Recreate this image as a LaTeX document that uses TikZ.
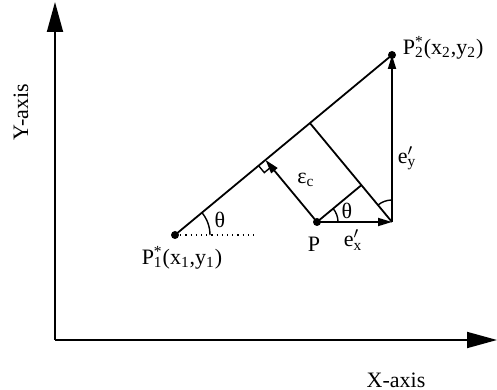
\documentclass[tikz,border=0pt]{standalone}
\usepackage{fontspec}
\setmainfont{Liberation Serif}
\usetikzlibrary{arrows.meta,calc,angles,positioning}

\begin{document}
\begin{tikzpicture}[x=0.5pt, y=0.5pt, line width=0.9pt,
    axisarrow/.style={-{Triangle[length=15pt,width=8pt]}},
    vecarrow/.style={-{Triangle[length=7pt,width=4pt]}},
    lbl/.style={font=\fontsize{11}{13}\selectfont, inner sep=0pt}]
    \useasboundingbox (0,0) rectangle (497,390);
    % axes
    \coordinate (o)    at (55,50);
    \coordinate (ytop) at (55,388);
    \coordinate (xend) at (497,50);
    \draw[axisarrow] (o) -- (ytop);
    \draw[axisarrow] (o) -- (xend);
    \node[lbl, rotate=90] (ylbl) at (21,278) {Y-axis};
    \node[lbl]            (xlbl) at (396,10) {X-axis};
    % points
    \coordinate (p1) at (175,155);
    \coordinate (p2) at (392,335);
    \coordinate (p)  at (317,168);
    \coordinate (q)  at (392,168);
    \coordinate (h1) at (255,155);
    \coordinate (f1) at ($(p1)!(p)!(p2)$);
    \coordinate (f2) at ($(p1)!(q)!(p2)$);
    \coordinate (r)  at ($(f2)!(p)!(q)$);
    \draw (p1) -- (p2);
    \draw[dotted, line width=0.6pt] (p1) -- (h1);
    \draw (f2) -- (q);
    \draw (p) -- (r);
    \draw[vecarrow] (p) -- (f1);
    \draw[vecarrow] (p) -- (q);
    \draw[vecarrow] (q) -- (p2);
    % right angle at the foot
    \coordinate (ra) at ($(f1)!4.5pt!(p1)$);
    \coordinate (rb) at ($(f1)!4.5pt!(p)$);
    \draw[line width=0.7pt] (ra) -- ($(ra)+(rb)-(f1)$) -- (rb);
    % angles
    \pic[draw, line width=0.7pt, angle radius=17.5pt] {angle = h1--p1--p2};
    \pic[draw, line width=0.7pt, angle radius=10.5pt] {angle = q--p--r};
    \pic[draw, line width=0.7pt, angle radius=11pt]   {angle = p2--q--f2};
    \fill (p1) circle (2pt);
    \fill (p2) circle (2pt);
    \fill (p)  circle (2pt);
    % labels
    \node[lbl, anchor=west] (p2lbl) at (402,342) {P\rlap{\textsuperscript{*}}\textsubscript{2}(x\textsubscript{2},y\textsubscript{2})};
    \node[lbl] (p1lbl) at (182,132) {P\rlap{\textsuperscript{*}}\textsubscript{1}(x\textsubscript{1},y\textsubscript{1})};
    \node[lbl] (plbl)  at (314,146) {P};
    \node[lbl] (exlbl) at (353,150) {e\rlap{$'$}\textsubscript{x}};
    \node[lbl] (eylbl) at (407,232) {e\rlap{$'$}\textsubscript{y}};
    \node[lbl] (eclbl) at (306,210) {ε\textsubscript{c}};
    \node[lbl] (t1lbl) at (220,170) {θ};
    \node[lbl] (t2lbl) at (347,179) {θ};
\end{tikzpicture}
\end{document}
